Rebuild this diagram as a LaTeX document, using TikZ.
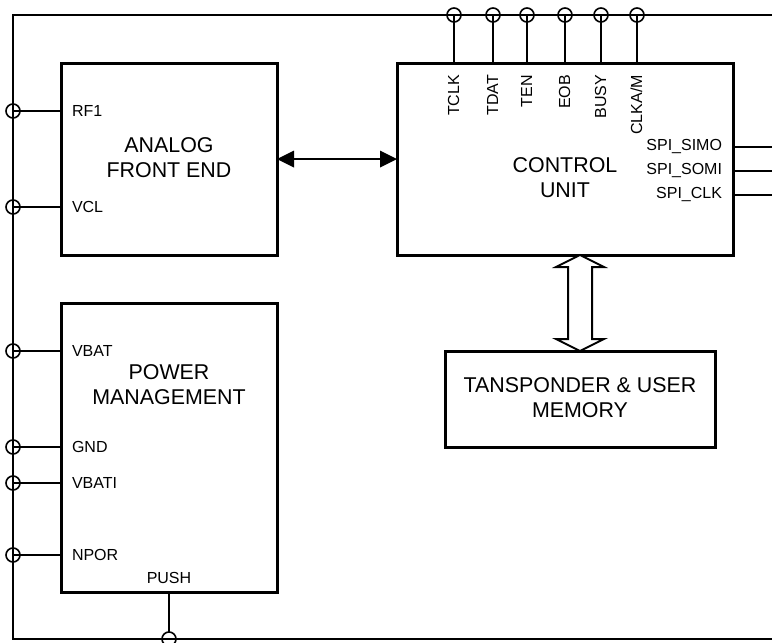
\documentclass[tikz,border=0pt]{standalone}
\usepackage{fontspec}
\setmainfont{Liberation Sans}
\tikzset{
  blockbox/.style={draw=black,line width=3pt,fill=none,inner sep=0pt,outer sep=0pt},
  pin/.style={draw=black,circle,line width=1.6pt,minimum size=14pt,inner sep=0pt,outer sep=0pt},
  wire/.style={draw=black,line width=1.6pt},
  lab/.style={font=\fontsize{16}{18}\selectfont,inner sep=0pt,outer sep=0pt,text=black},
  leftlab/.style={lab,anchor=west},
  rightlab/.style={lab,anchor=east},
  toplab/.style={lab,rotate=90,anchor=east},
  title/.style={inner sep=0pt,outer sep=0pt,align=center,font=\fontsize{21.4}{25}\selectfont}
}
\begin{document}
\begin{tikzpicture}[x=1pt,y=-1pt]
\useasboundingbox (0,0) rectangle (772,643);
% frame
\coordinate (ftr) at (772,15);
\coordinate (ftl) at (13,15);
\coordinate (fbl) at (13,639);
\coordinate (fbr) at (772,639);
\draw[wire] (ftr) -- (ftl) -- (fbl) -- (fbr);
% blocks
\node[blockbox,minimum width=216pt,minimum height=192pt] (afe) at (169,159) {};
\node[blockbox,minimum width=336pt,minimum height=192pt] (cu) at (565,159) {};
\node[blockbox,minimum width=216pt,minimum height=289pt] (pm) at (169,447.5) {};
\node[blockbox,minimum width=270pt,minimum height=96pt] (mem) at (580,399) {};
% block titles
\node[title] (afet) at (169,157.5) {ANALOG\\FRONT END};
\node[title] (cut) at (565,177.5) {CONTROL\\UNIT};
\node[title] (pmt) at (169,384.5) {POWER\\MANAGEMENT};
\node[title] (memt) at (580,397.5) {TANSPONDER \& USER\\MEMORY};
% left pins
\foreach \n/\y/\t in {rf/111/RF1,vcl/207/VCL,vbat/351/VBAT,gnd/447/GND,vbati/483/VBATI,npor/555/NPOR}{
  \node[pin] (p\n) at (13,\y) {};
  \node[leftlab] (l\n) at (72,\y) {\t};
}
\draw[wire] (prf.center) -- (prf -| afe.west);
\draw[wire] (pvcl.center) -- (pvcl -| afe.west);
\draw[wire] (pvbat.center) -- (pvbat -| pm.west);
\draw[wire] (pgnd.center) -- (pgnd -| pm.west);
\draw[wire] (pvbati.center) -- (pvbati -| pm.west);
\draw[wire] (pnpor.center) -- (pnpor -| pm.west);
% top pins
\foreach \n/\x/\t in {tclk/454/TCLK,tdat/493/TDAT,ten/527/TEN,eob/565/EOB,busy/601/BUSY,clka/637/CLKA\slash M}{
  \node[pin] (p\n) at (\x,15) {};
  \node[toplab] (l\n) at (\x-0.5,75) {\t};
  \draw[wire] (p\n.center) -- (p\n |- cu.north);
}
% SPI
\foreach \n/\y/\t in {simo/147/SPI\_SIMO,somi/171/SPI\_SOMI,clk/195/SPI\_CLK}{
  \node[rightlab] (l\n) at (722,\y) {\t};
  \coordinate (e\n) at (772,\y);
  \draw[wire] (e\n) -- (e\n -| cu.east);
}
% PUSH
\node[lab] (lpush) at (169,578) {PUSH};
\node[pin] (ppush) at (169,639) {};
\draw[wire,line width=2pt] (pm.south) -- (ppush.north);
% AFE <-> CU
\draw[wire,line width=2pt] ([xshift=15pt]afe.east) -- ([xshift=-15pt]cu.west);
\fill[black] (afe.east) -- ++(17,-8.5) -- ++(0,17) -- cycle;
\fill[black] (cu.west) -- ++(-17,-8.5) -- ++(0,17) -- cycle;
% CU <=> memory hollow arrow
\coordinate (atop) at (mem.north |- cu.south);
\draw[draw=black,line width=2pt,line join=miter,fill=white]
  (atop) -- ++(24,12) -- ++(-12,0) -- ++(0,72) -- ++(12,0)
  -- (mem.north) -- ++(-24,-12) -- ++(12,0) -- ++(0,-72) -- ++(-12,0) -- cycle;
\end{tikzpicture}
\end{document}
